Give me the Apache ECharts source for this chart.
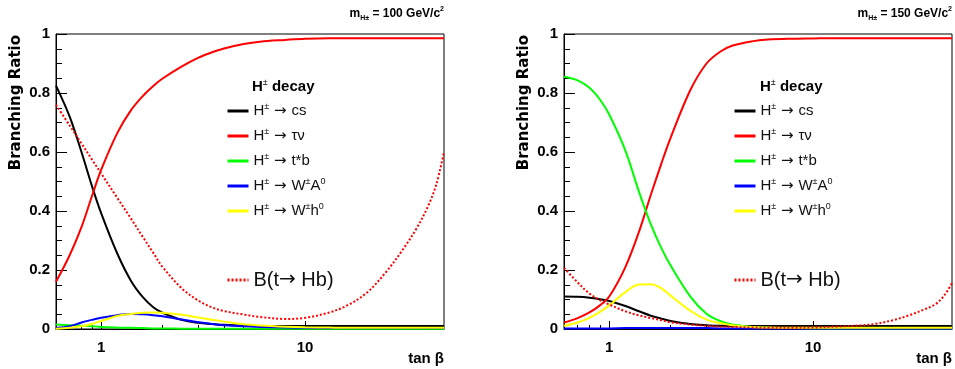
<!DOCTYPE html>
<html>
<head>
<meta charset="utf-8">
<script src="https://cdn.jsdelivr.net/npm/echarts@6/dist/echarts.min.js"></script>
<style>
html,body{margin:0;padding:0;background:#fff;}
#chart{width:955px;height:369px;}
</style>
</head>
<body>
<div id="chart"></div>
<script>
// ---- data ----
const tanb = [0.6,0.7,0.8,0.9,1,1.2,1.4,1.6,1.8,2,2.5,3,3.5,4,5,6,8,10,13,16,20,25,30,35,40,44,48];

// m_H± = 100 GeV/c^2
const cs100    = [0.825,0.72,0.6,0.485,0.392,0.255,0.163,0.108,0.074,0.055,0.030,0.021,0.017,0.014,0.011,0.010,0.010,0.010,0.010,0.010,0.010,0.010,0.010,0.010,0.010,0.010,0.010];
const taunu100 = [0.16,0.25,0.345,0.45,0.54,0.665,0.742,0.79,0.824,0.849,0.891,0.92,0.938,0.951,0.966,0.974,0.98,0.984,0.986,0.986,0.986,0.986,0.986,0.986,0.986,0.986,0.986];
const tb100    = [0.015,0.013,0.011,0.009,0.007,0.005,0.004,0.003,0.002,0.002,0.001,0.001,0.001,0.001,0.001,0.001,0.001,0.001,0.001,0.001,0.001,0.001,0.001,0.001,0.001,0.001,0.001];
const wa100    = [0.003,0.009,0.022,0.031,0.038,0.047,0.051,0.050,0.047,0.043,0.032,0.023,0.017,0.013,0.009,0.007,0.005,0.004,0.003,0.003,0.003,0.003,0.003,0.003,0.003,0.003,0.003];
const wh100    = [0.001,0.004,0.009,0.017,0.027,0.044,0.051,0.055,0.056,0.055,0.048,0.039,0.031,0.025,0.016,0.012,0.008,0.006,0.005,0.004,0.004,0.004,0.004,0.004,0.004,0.004,0.004];
const bthb100  = [0.76,0.69,0.629,0.575,0.527,0.444,0.374,0.312,0.258,0.21,0.136,0.096,0.073,0.061,0.049,0.041,0.034,0.038,0.055,0.079,0.122,0.194,0.267,0.338,0.415,0.49,0.6];

// m_H± = 150 GeV/c^2
const cs150    = [0.11,0.109,0.106,0.101,0.095,0.078,0.06,0.045,0.035,0.027,0.017,0.013,0.011,0.010,0.010,0.010,0.010,0.010,0.010,0.010,0.010,0.010,0.010,0.010,0.010,0.010,0.010];
const taunu150 = [0.022,0.037,0.056,0.08,0.11,0.21,0.33,0.455,0.56,0.648,0.81,0.9,0.94,0.96,0.975,0.981,0.984,0.985,0.986,0.986,0.986,0.986,0.986,0.986,0.986,0.986,0.986];
const tb150    = [0.855,0.843,0.818,0.778,0.727,0.605,0.465,0.355,0.275,0.215,0.11,0.052,0.027,0.015,0.007,0.004,0.003,0.002,0.002,0.002,0.002,0.002,0.002,0.002,0.002,0.002,0.002];
const wa150    = [0.002,0.002,0.002,0.002,0.002,0.003,0.003,0.003,0.003,0.003,0.003,0.003,0.002,0.002,0.002,0.002,0.002,0.002,0.002,0.002,0.002,0.002,0.002,0.002,0.002,0.002,0.002];
const wh150    = [0.011,0.022,0.038,0.058,0.08,0.125,0.151,0.152,0.138,0.113,0.062,0.032,0.02,0.013,0.007,0.005,0.004,0.004,0.004,0.004,0.004,0.004,0.004,0.004,0.004,0.004,0.004];
const bthb150  = [0.207,0.158,0.12,0.098,0.083,0.06,0.046,0.037,0.03,0.023,0.015,0.011,0.008,0.007,0.005,0.004,0.004,0.005,0.008,0.011,0.017,0.031,0.048,0.066,0.085,0.114,0.155];

const majorTicksX = [1, 10];
const minorTicksX = [0.7,0.8,0.9,2,3,4,5,6,7,8,9,20,30,40];
const majorTicksY = [0, 0.2, 0.4, 0.6, 0.8, 1];
const minorTicksY = [0.05,0.1,0.15,0.25,0.3,0.35,0.45,0.5,0.55,0.65,0.7,0.75,0.85,0.9,0.95];

const seriesNames = ['cs','taunu','tb','wa','wh','bthb'];
const seriesColors = ['#000000','#ff0000','#00ff00','#0000ff','#ffff00','#ff0000'];
const panels = [
  {mass: '100', data: [cs100, taunu100, tb100, wa100, wh100, bthb100]},
  {mass: '150', data: [cs150, taunu150, tb150, wa150, wh150, bthb150]}
];

// ---- chart ----
const FONT = 'Liberation Sans';
const grids = [
  {left: 56, right: 511, top: 34, bottom: 40},
  {left: 564, right: 3, top: 34, bottom: 40}
];
const pairs = ys => tanb.map((t, i) => [t, ys[i]]);

const xAxes = [], yAxes = [], series = [], legends = [], graphics = [];
const labelRich = {
  t: {fontSize: 15, fontFamily: FONT, color: '#111', lineHeight: 18, verticalAlign: 'middle'},
  r: {fontSize: 15, fontFamily: 'DejaVu Sans', color: '#111', lineHeight: 18, verticalAlign: 'middle'},
  s: {fontSize: 9, fontFamily: FONT, color: '#111', lineHeight: 9, verticalAlign: 'top'}
};
const legendText = {
  cs: '{t|H}{s|±}{r| → }{t|cs}',
  taunu: '{t|H}{s|±}{r| → }{t|τν}',
  tb: '{t|H}{s|±}{r| → }{t|t*b}',
  wa: '{t|H}{s|±}{r| → }{t|W}{s|±}{t|A}{s|0}',
  wh: '{t|H}{s|±}{r| → }{t|W}{s|±}{t|h}{s|0}',
  bthb: '{b|B(t}{a|→}{b| Hb)}'
};
const tickStyle = {color: '#000', width: 1};

panels.forEach((p, g) => {
  const gr = grids[g];
  const x1 = 955 - gr.right;
  xAxes.push({
    type: 'log', gridIndex: g, logBase: 10, min: 0.6, max: 48, position: 'bottom',
    axisLine: {show: true, onZero: false, lineStyle: {color: '#000', width: 1}},
    axisTick: {show: true, inside: true, length: 8, customValues: majorTicksX, lineStyle: tickStyle},
    axisLabel: {show: true, customValues: majorTicksX, margin: 11, fontSize: 15, fontWeight: 'bold', color: '#000', fontFamily: FONT},
    splitLine: {show: false}
  });
  xAxes.push({
    type: 'log', gridIndex: g, logBase: 10, min: 0.6, max: 48, position: 'bottom',
    axisLine: {show: false},
    axisTick: {show: true, inside: true, length: 4, customValues: minorTicksX, lineStyle: tickStyle},
    axisLabel: {show: false},
    splitLine: {show: false}
  });
  yAxes.push({
    type: 'value', gridIndex: g, min: 0, max: 1, interval: 0.2, position: 'left',
    axisLine: {show: true, onZero: false, lineStyle: {color: '#000', width: 1}},
    axisTick: {show: true, inside: true, length: 11, customValues: majorTicksY, lineStyle: tickStyle},
    axisLabel: {show: true, customValues: majorTicksY, margin: 6, fontSize: 15, fontWeight: 'bold', color: '#000', fontFamily: FONT,
      formatter: v => String(+(+v).toFixed(1))},
    splitLine: {show: false}
  });
  yAxes.push({
    type: 'value', gridIndex: g, min: 0, max: 1, interval: 0.2, position: 'left',
    axisLine: {show: false},
    axisTick: {show: true, inside: true, length: 6, customValues: minorTicksY, lineStyle: tickStyle},
    axisLabel: {show: false},
    splitLine: {show: false}
  });
  p.data.forEach((ys, k) => {
    const dotted = seriesNames[k] === 'bthb';
    series.push({
      type: 'line', name: seriesNames[k], xAxisIndex: 2 * g, yAxisIndex: 2 * g,
      data: pairs(ys), symbol: 'none', smooth: 0.35, clip: true,
      lineStyle: {color: seriesColors[k], width: 2, type: dotted ? [2, 2] : 'solid'},
      itemStyle: {color: seriesColors[k]},
      z: 2 + k
    });
  });
  const legX = g === 0 ? 226 : 733;
  legends.push({
    orient: 'vertical', left: legX, top: 102, padding: 0, itemWidth: 21, itemHeight: 14, itemGap: 8.5,
    data: ['cs','taunu','tb','wa','wh'], selectedMode: false,
    lineStyle: {width: 3}, itemStyle: {opacity: 0},
    formatter: n => legendText[n],
    textStyle: {rich: labelRich}
  });
  legends.push({
    orient: 'vertical', left: legX, top: 270, padding: 0, itemWidth: 21, itemHeight: 14,
    data: ['bthb'], selectedMode: false, lineStyle: {width: 3}, itemStyle: {opacity: 0},
    formatter: n => legendText[n],
    textStyle: {rich: {
      b: {fontSize: 20, fontFamily: FONT, color: '#111', lineHeight: 24},
      a: {fontSize: 20, fontFamily: 'DejaVu Sans', color: '#111', lineHeight: 24}
    }}
  });
  // texts
  graphics.push({
    type: 'text', x: g === 0 ? 252 : 760, y: 87,
    style: {text: '{b|H}{s|±}{b| decay}', textVerticalAlign: 'middle',
      rich: {b: {fontSize: 15, fontWeight: 'bold', fontFamily: FONT, color: '#111', lineHeight: 18, verticalAlign: 'middle'},
             s: {fontSize: 9, fontFamily: FONT, color: '#111', lineHeight: 9, verticalAlign: 'top'}}}
  });
  graphics.push({
    type: 'text', x: g === 0 ? 16 : 524, y: 35, rotation: Math.PI / 2,
    style: {text: 'Branching Ratio', fontSize: 15, fontWeight: 'bold', fontFamily: 'DejaVu Sans', fill: '#000',
      textAlign: 'right', textVerticalAlign: 'middle'}
  });
  graphics.push({
    type: 'text', x: x1, y: 359,
    style: {text: 'tan β', fontSize: 15, fontWeight: 'bold', fontFamily: FONT, fill: '#000',
      textAlign: 'right', textVerticalAlign: 'middle'}
  });
  graphics.push({
    type: 'text', x: x1, y: 14,
    style: {text: '{m|m}{sub|H±}{m| = ' + p.mass + ' GeV/c}{sup|2}', textAlign: 'right', textVerticalAlign: 'middle',
      rich: {m: {fontSize: 12, fontWeight: 'bold', fontFamily: FONT, color: '#000', lineHeight: 16, verticalAlign: 'middle'},
             sub: {fontSize: 7, fontWeight: 'bold', fontFamily: FONT, color: '#000', lineHeight: 8, verticalAlign: 'bottom'},
             sup: {fontSize: 7, fontWeight: 'bold', fontFamily: FONT, color: '#000', lineHeight: 8, verticalAlign: 'top'}}}
  });
});

const chart = echarts.init(document.getElementById('chart'), null, {renderer: 'canvas'});
chart.setOption({
  animation: false,
  backgroundColor: '#fff',
  grid: grids.map(g => Object.assign({show: true, borderColor: '#000', borderWidth: 1, containLabel: false}, g)),
  xAxis: xAxes,
  yAxis: yAxes,
  legend: legends,
  series: series,
  graphic: graphics
});
</script>
</body>
</html>
